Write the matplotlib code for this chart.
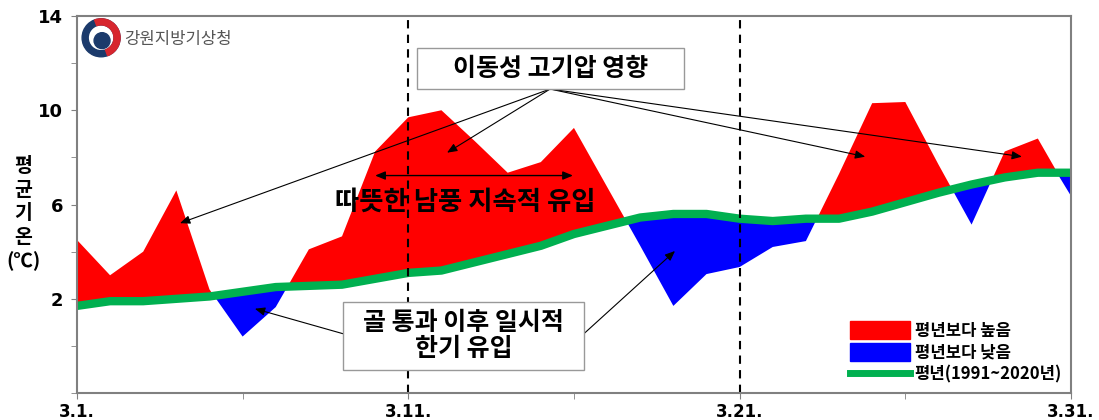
import matplotlib
matplotlib.use("Agg")
import matplotlib.pyplot as plt
from matplotlib.patches import Patch, Rectangle, Wedge, Circle
from matplotlib.lines import Line2D
import numpy as np

plt.rcParams['font.family'] = ['Noto Sans CJK KR', 'DejaVu Sans']

# 3월 일평균기온 (관측) 과 평년값
days = np.arange(31)
obs = [4.5, 3.0, 4.0, 6.6, 2.4, 0.4, 1.65, 4.1, 4.65, 8.25,
       9.7, 10.0, 8.7, 7.35, 7.8, 9.25, 6.75, 4.25, 1.7, 3.05,
       3.35, 4.2, 4.45, 7.3, 10.3, 10.35, 7.7, 5.15, 8.25, 8.8, 6.35]
normal = [1.7, 1.9, 1.9, 2.0, 2.1, 2.3, 2.5, 2.55, 2.6, 2.85,
          3.1, 3.2, 3.55, 3.9, 4.25, 4.75, 5.1, 5.45, 5.6, 5.6,
          5.4, 5.3, 5.4, 5.4, 5.7, 6.1, 6.5, 6.85, 7.15, 7.35, 7.35]
xtick_pos = [0, 10, 20, 30]
xtick_lab = ['3.1.', '3.11.', '3.21.', '3.31.']
ytick_lab = [2, 6, 10, 14]

obs = np.array(obs)
normal = np.array(normal)

fig = plt.figure(figsize=(10.99, 4.2), dpi=100)
ax = fig.add_axes([0.070, 0.064, 0.9045, 0.898])

ax.fill_between(days, normal, obs, where=obs >= normal, interpolate=True,
                color='#FF0000', lw=0)
ax.fill_between(days, normal, obs, where=obs <= normal, interpolate=True,
                color='#0000FF', lw=0)
ax.plot(days, normal, color='#00B050', lw=6, solid_capstyle='butt')

for d in [10, 20]:
    ax.axvline(d, color='black', ls=(0, (4, 3)), lw=1.5)

ax.set_xlim(0, 30)
ax.set_ylim(-2, 14)
ax.set_xticks(xtick_pos)
ax.set_xticklabels(xtick_lab, fontsize=12, fontweight='bold', family='DejaVu Sans')
ax.set_xticks([5, 15, 25], minor=True)
ax.set_yticks(ytick_lab)
ax.set_yticklabels([str(v) for v in ytick_lab], fontsize=13, fontweight='bold',
                   family='DejaVu Sans')
ax.set_yticks([-2, 0, 4, 8, 12], minor=True)
ax.tick_params(axis='x', which='both', length=4, pad=3, color='#808080')
ax.tick_params(axis='y', which='both', length=4, pad=6, color='#808080')
for s in ax.spines.values():
    s.set_color('#808080')
    s.set_linewidth(1.5)

fig.text(0.021, 0.49, '평\n균\n기\n온\n(℃)', ha='center', va='center',
         fontsize=14, fontweight='bold', linespacing=1.3)

# 박스 주석: 이동성 고기압 영향
ax.add_patch(Rectangle((10.26, 10.9), 8.06, 1.73, facecolor='white',
                       edgecolor='#999999', lw=1, zorder=5))
ax.text(14.29, 11.76, '이동성 고기압 영향', ha='center', va='center',
        fontsize=18, fontweight='bold', zorder=6)
src = (14.28, 10.9)
for tgt in [(3.11, 5.21), (11.17, 8.2), (23.79, 8.03), (28.52, 8.03)]:
    ax.annotate('', xy=tgt, xytext=src,
                arrowprops=dict(arrowstyle='-|>,head_length=0.6,head_width=0.25',
                                color='black', lw=0.8, shrinkA=0, shrinkB=0))

# 따뜻한 남풍
ax.annotate('', xy=(9.0, 7.23), xytext=(14.97, 7.23),
            arrowprops=dict(arrowstyle='<|-|>,head_length=0.6,head_width=0.25',
                            color='black', lw=1.0, shrinkA=0, shrinkB=0))
ax.text(11.71, 6.09, '따뜻한 남풍 지속적 유입', ha='center', va='center',
        fontsize=19, fontweight='bold')

# 박스 주석: 골 통과
ax.add_patch(Rectangle((8.03, -1.04), 7.27, 2.91, facecolor='white',
                       edgecolor='#999999', lw=1, zorder=5))
ax.text(11.67, 0.42, '골 통과 이후 일시적\n한기 유입', ha='center', va='center',
        fontsize=18, fontweight='bold', linespacing=1.1, zorder=6)
for s_pt, tgt in [((8.03, 0.52), (5.37, 1.58)), ((15.30, 0.52), (18.05, 4.03))]:
    ax.annotate('', xy=tgt, xytext=s_pt,
                arrowprops=dict(arrowstyle='-|>,head_length=0.6,head_width=0.25',
                                color='black', lw=0.8, shrinkA=0, shrinkB=0))

handles = [Patch(color='#FF0000', label='평년보다 높음'),
           Patch(color='#0000FF', label='평년보다 낮음'),
           Line2D([], [], color='#00B050', lw=5, label='평년(1991~2020년)')]
leg = ax.legend(handles=handles, loc='lower right', frameon=False,
                prop={'size': 12, 'weight': 'bold'}, handlelength=3.6,
                handleheight=1.3, labelspacing=0.2, handletextpad=0.3,
                borderaxespad=0.15)

# 로고
lax = fig.add_axes([0.073, 0.86, 0.038, 0.1])
lax.set_xlim(-1.1, 1.1)
lax.set_ylim(-1.1, 1.1)
lax.set_aspect('equal')
lax.axis('off')
lax.add_patch(Wedge((0, 0), 1.0, 0, 360, width=0.32, color='#1B3A6B'))
lax.add_patch(Wedge((0, 0), 1.0, -70, 110, width=0.32, color='#D7262E'))
lax.add_patch(Circle((0.05, -0.15), 0.42, color='#1B3A6B'))
fig.text(0.113, 0.905, '강원지방기상청', ha='left', va='center', fontsize=12,
         color='#555555')

fig.savefig('out.png', dpi=100)
